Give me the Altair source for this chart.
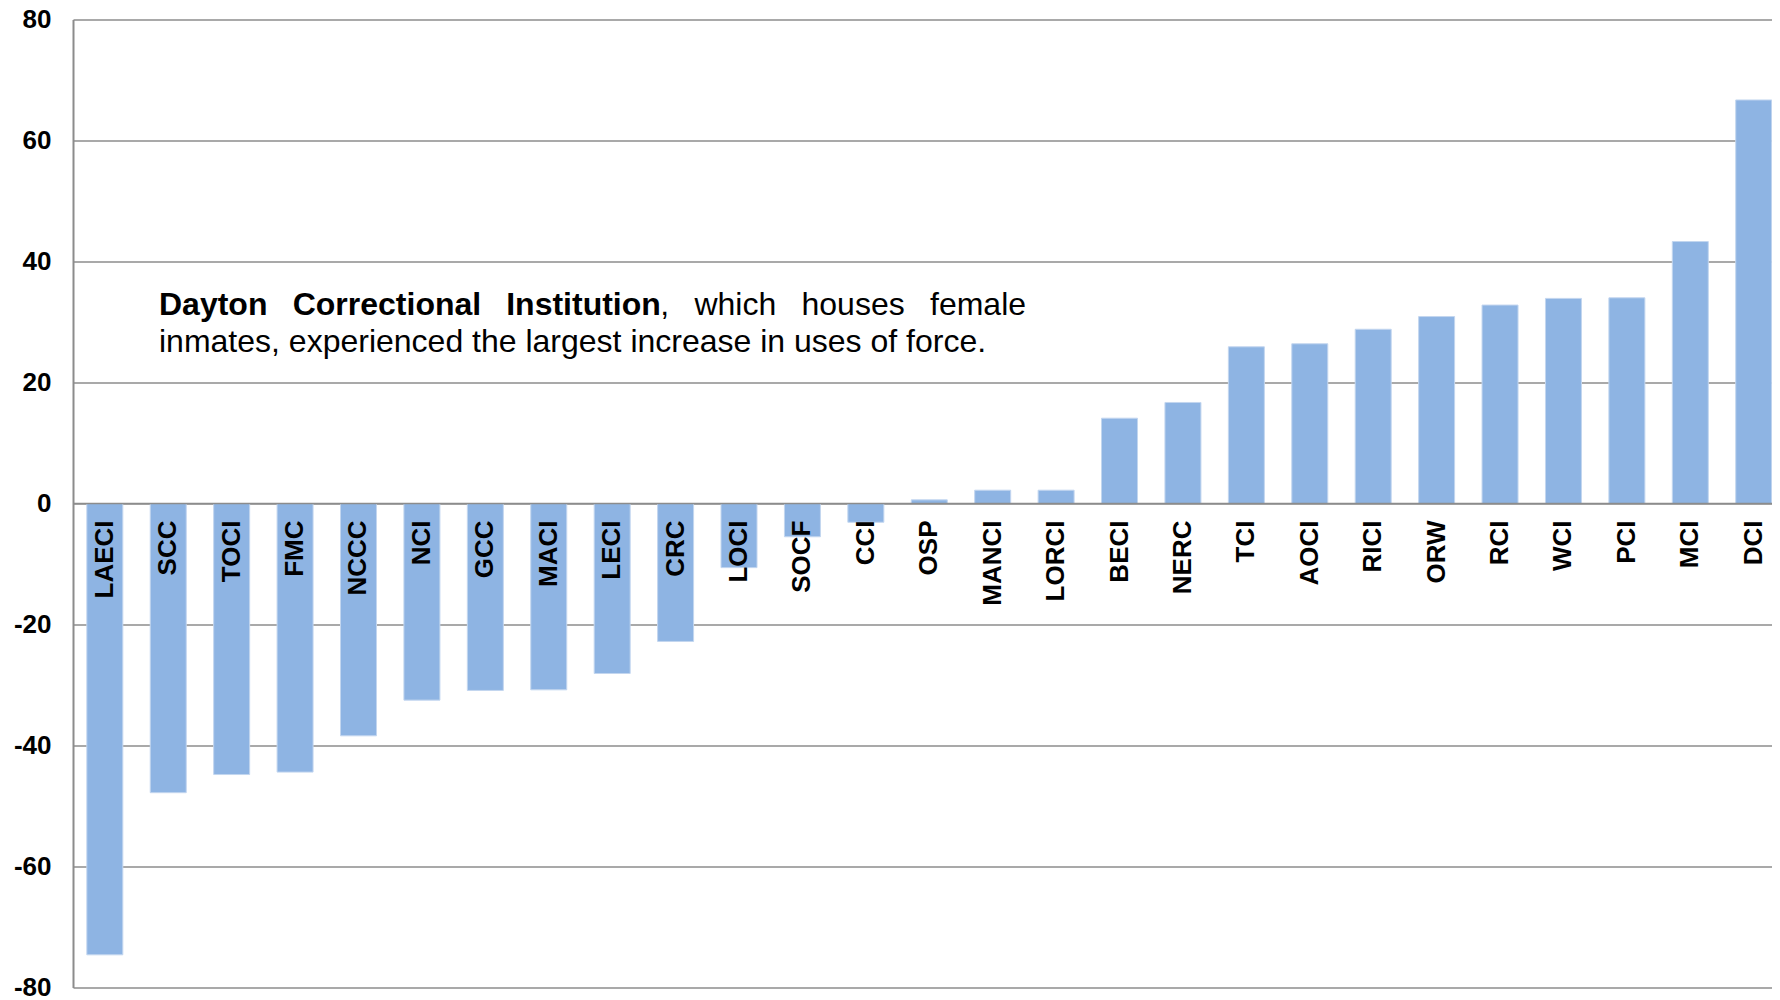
import altair as alt
import pandas as pd

# ---- data ----
institutions = ["LAECI", "SCC", "TOCI", "FMC", "NCCC", "NCI", "GCC", "MACI", "LECI",
                "CRC", "LOCI", "SOCF", "CCI", "OSP", "MANCI", "LORCI", "BECI", "NERC",
                "TCI", "AOCI", "RICI", "ORW", "RCI", "WCI", "PCI", "MCI", "DCI"]
changes = [-74.6, -47.8, -44.8, -44.4, -38.4, -32.5, -30.9, -30.8, -28.1,
           -22.8, -10.6, -5.5, -3.1, 0.6, 2.2, 2.2, 14.1, 16.7,
           25.9, 26.4, 28.8, 30.9, 32.8, 33.9, 34.0, 43.3, 66.7]
y_ticks = [-80, -60, -40, -20, 0, 20, 40, 60, 80]

# annotation text (line 1 is justified word by word)
line1_words = ["Dayton", "Correctional", "Institution", ",", "which", "houses", "female"]
line1_bold = [True, True, True, False, False, False, False]
line2_text = "inmates, experienced the largest increase in uses of force."

# layout (pixels inside the plot area)
line1_x = [86, 219.7, 433.2, 587.2, 621.4, 728.5, 857]
line1_y = 295
line2_x = 86
line2_y = 332.5

FONT = "Liberation Sans"
GRID = "#8C8C8C"
BAR = "#8EB4E3"

df = pd.DataFrame({"inst": institutions, "change": changes})
base = alt.Chart(df)

xscale = alt.Scale(paddingInner=0.4324, paddingOuter=0.1112, align=0.98)
x_enc = alt.X("inst:N", sort=institutions, axis=None, scale=xscale)

bars = base.mark_bar(color=BAR, stroke="#C3D6EF", strokeWidth=1).encode(
    x=x_enc,
    y=alt.Y(
        "change:Q",
        scale=alt.Scale(domain=[-80, 80], nice=False, zero=False),
        axis=alt.Axis(
            values=y_ticks, title=None, ticks=False, labelPadding=22,
            labelExpr="toString(datum.value)",
            labelFont=FONT, labelFontSize=26, labelFontWeight="bold",
            labelColor="black", grid=True, gridColor=GRID, gridWidth=1.5,
            domainColor=GRID, domainWidth=2, labelOverlap=False,
        ),
    ),
)

zero_rule = alt.Chart(pd.DataFrame({"z": [0]})).mark_rule(
    color=GRID, strokeWidth=1.5
).encode(y="z:Q")

labels = base.mark_text(
    angle=270, align="right", baseline="middle", dx=-17,
    font=FONT, fontSize=26, fontWeight="bold", color="black",
).encode(x=x_enc, y=alt.datum(0), text="inst:N")

annot_layers = []
for w, b, px in zip(line1_words, line1_bold, line1_x):
    annot_layers.append(
        alt.Chart(pd.DataFrame({"t": [w]})).mark_text(
            align="left", baseline="alphabetic", font=FONT, fontSize=32,
            fontWeight="bold" if b else "normal", color="black",
        ).encode(x=alt.value(px), y=alt.value(line1_y), text="t:N")
    )
annot_layers.append(
    alt.Chart(pd.DataFrame({"t": [line2_text]})).mark_text(
        align="left", baseline="alphabetic", font=FONT, fontSize=32,
        fontWeight="normal", color="black",
    ).encode(x=alt.value(line2_x), y=alt.value(line2_y), text="t:N")
)

chart = alt.layer(bars, zero_rule, labels, *annot_layers).properties(
    width=1699, height=968,
    autosize=alt.AutoSizeParams(type="none"),
    padding={"left": 65, "top": 11.5, "right": 0, "bottom": 12},
).configure_view(strokeWidth=0)

chart.save("out.html", embed_options={"renderer": "svg", "actions": False})
